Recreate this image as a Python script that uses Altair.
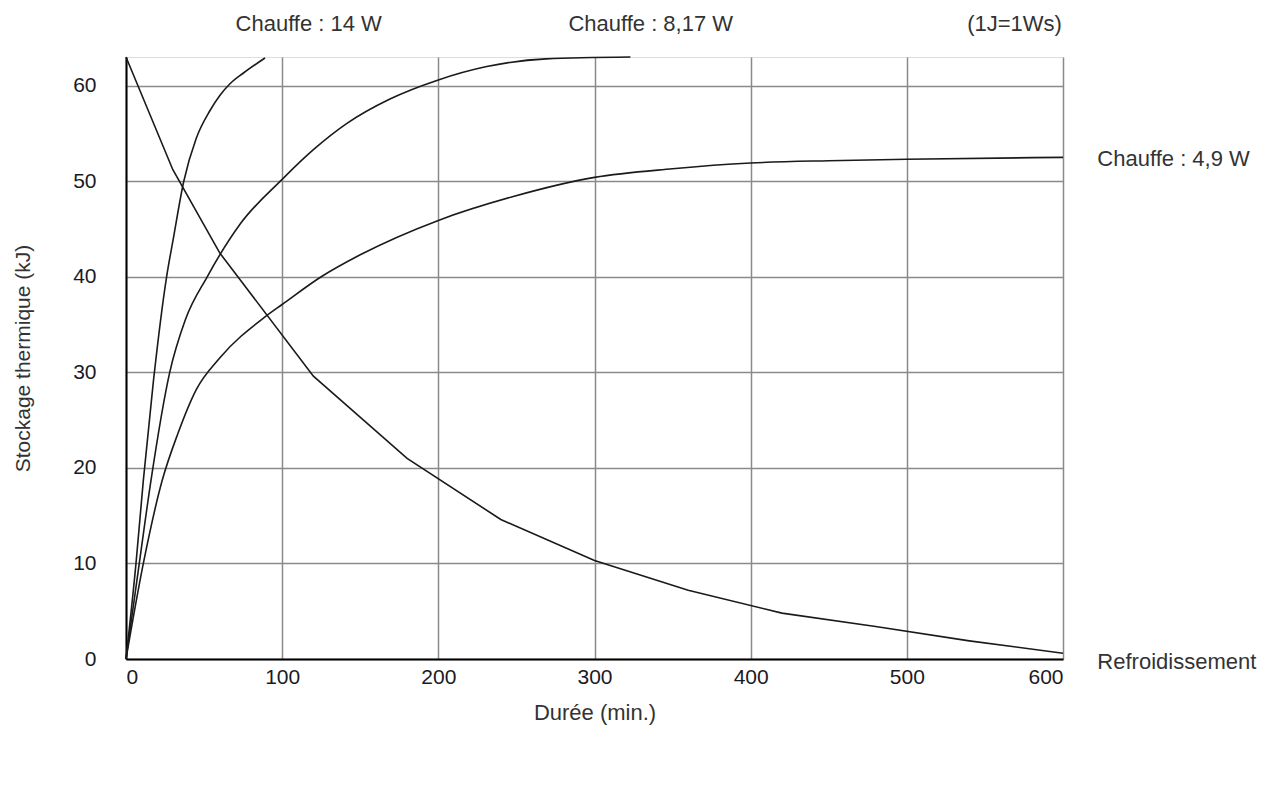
import altair as alt
import pandas as pd

# --- data ---
t_14w = [0, 6.4, 11.1, 17.5, 26, 30.3, 37, 45, 53.8, 60.2, 66.6, 75, 89]
v_14w = [0, 10, 18.7, 29, 40, 44, 50, 54.5, 57.4, 59.0, 60.2, 61.3, 62.9]

t_817w = [0, 8.5, 16, 28, 38, 52, 73, 100, 120, 141, 169, 200, 231, 269, 323]
v_817w = [0, 10, 18.7, 30, 35.5, 40, 45.5, 50.2, 53.3, 56.0, 58.6, 60.6, 62.0, 62.8, 63.0]

t_49w = [0, 11.1, 23.2, 33, 45, 60, 89, 100, 125, 150, 200, 248, 300, 350, 400, 450, 500, 600]
v_49w = [0, 10, 18.7, 23.5, 28.2, 31.5, 35.8, 37.1, 40, 42.3, 45.9, 48.4, 50.4, 51.3, 51.9, 52.15, 52.3, 52.5]

t_cool = [0, 30, 60, 120, 180, 240, 300, 360, 420, 480, 540, 600]
v_cool = [63, 51.2, 42.5, 29.6, 21.0, 14.6, 10.3, 7.2, 4.8, 3.4, 1.9, 0.6]

x_ticks = [0, 100, 200, 300, 400, 500, 600]
y_ticks = [0, 10, 20, 30, 40, 50, 60]

# annotation texts with their anchor positions in data units
top_labels = ["Chauffe : 14 W", "Chauffe : 8,17 W", "(1J=1Ws)"]
top_label_t = [117, 336, 569]
top_label_v = [66.5, 66.5, 66.5]

right_labels = ["Chauffe : 4,9 W", "Refroidissement"]
right_label_t = [622, 622]
right_label_v = [52.3, -0.3]

heat_rows = []
for name, ts, vs in [("14W", t_14w, v_14w), ("8.17W", t_817w, v_817w), ("4.9W", t_49w, v_49w)]:
    for i, (t, v) in enumerate(zip(ts, vs)):
        heat_rows.append({"serie": name, "t": t, "v": v, "o": i})
df_heat = pd.DataFrame(heat_rows)
df_cool = pd.DataFrame({"t": t_cool, "v": v_cool, "o": list(range(len(t_cool)))})

df_top = pd.DataFrame({"txt": top_labels, "t": top_label_t, "v": top_label_v})
df_right = pd.DataFrame({"txt": right_labels, "t": right_label_t, "v": right_label_v})

FONT = "Liberation Sans"

xscale = alt.Scale(domain=[0, 600], nice=False, zero=False)
yscale = alt.Scale(domain=[0, 63], nice=False, zero=False)

xaxis = alt.Axis(
    values=x_ticks, title="Durée (min.)", grid=True, gridColor="#8a8a8a",
    gridWidth=1.5, domainColor="#000", domainWidth=2, ticks=False,
    labelPadding=7, labelFontSize=21, labelColor="#1a1a24", labelFont=FONT,
    titleFont=FONT, titleFontSize=22, titleFontWeight="normal", titleColor="#333",
    titleY=53, titleBaseline="middle",
)
yaxis = alt.Axis(
    values=y_ticks, title="Stockage  thermique (kJ)", grid=True, gridColor="#8a8a8a",
    gridWidth=1.5, domainColor="#000", domainWidth=2, ticks=False,
    labelPadding=30, labelFontSize=21, labelColor="#1a1a24", labelFont=FONT,
    titleFont=FONT, titleFontSize=21, titleFontWeight="normal", titleColor="#333",
    titleX=-103, titleY=301, titleBaseline="middle", titleAngle=-90,
)

heat = alt.Chart(df_heat).mark_line(interpolate="monotone", strokeWidth=1.6, color="#1a1a1a").encode(
    x=alt.X("t:Q", scale=xscale, axis=xaxis),
    y=alt.Y("v:Q", scale=yscale, axis=yaxis),
    detail="serie:N",
    order="o:Q",
)
cool = alt.Chart(df_cool).mark_line(interpolate="linear", strokeWidth=1.6, color="#1a1a1a").encode(
    x=alt.X("t:Q", scale=xscale),
    y=alt.Y("v:Q", scale=yscale),
    order="o:Q",
)

top_text = alt.Chart(df_top).mark_text(font=FONT, fontSize=22, color="#333", align="center", baseline="middle").encode(
    x=alt.X("t:Q", scale=xscale), y=alt.Y("v:Q", scale=yscale), text="txt:N"
)
right_text = alt.Chart(df_right).mark_text(font=FONT, fontSize=22, color="#333", align="left", baseline="middle").encode(
    x=alt.X("t:Q", scale=xscale), y=alt.Y("v:Q", scale=yscale), text="txt:N"
)

chart = alt.layer(heat, cool, top_text, right_text).properties(
    width=937, height=602,
    autosize=alt.AutoSizeParams(type="none"),
    padding={"left": 118, "top": 49, "right": 200, "bottom": 100},
).configure_view(stroke="#8a8a8a", strokeWidth=2).configure(background="white")

chart.save("out.html", embed_options={"renderer": "svg", "actions": False})
